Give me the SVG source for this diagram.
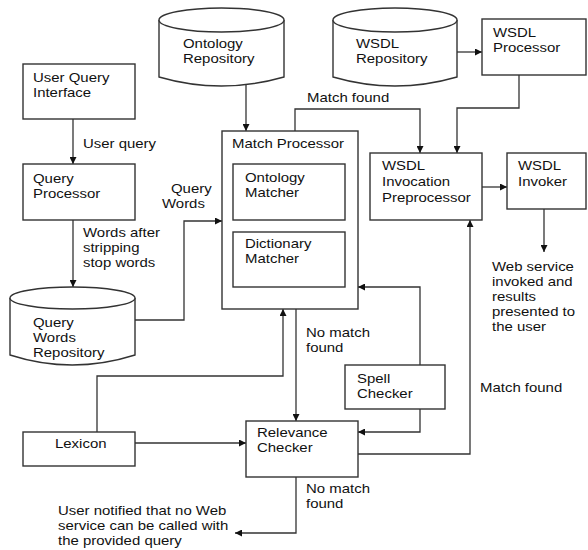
<svg xmlns="http://www.w3.org/2000/svg" width="588" height="550" viewBox="0 0 588 550">
<defs>
<style>
.box{fill:#fff;stroke:#333;stroke-width:1.4}
.ln{fill:none;stroke:#333;stroke-width:1.3}
text{font-family:"Liberation Sans",Arial,sans-serif;font-size:13px;fill:#111}
</style>
<marker id="ah" viewBox="0 0 10 10" refX="10" refY="5" markerWidth="7" markerHeight="7" markerUnits="userSpaceOnUse" orient="auto">
<path d="M0,0 L10,5 L0,10 z" fill="#111"/>
</marker>
</defs>
<rect width="588" height="550" fill="#fff"/>

<g id="connectors">
<path class="ln" d="M73,119 V164" marker-end="url(#ah)"/>
<path class="ln" d="M73,220 V287" marker-end="url(#ah)"/>
<path class="ln" d="M246,85 V131" marker-end="url(#ah)"/>
<path class="ln" d="M457,52 H482" marker-end="url(#ah)"/>
<path class="ln" d="M519,75 V108 H457 V153" marker-end="url(#ah)"/>
<path class="ln" d="M295,131 V109 H420 V153" marker-end="url(#ah)"/>
<path class="ln" d="M482,187 H507" marker-end="url(#ah)"/>
<path class="ln" d="M544,209 V252" marker-end="url(#ah)"/>
<path class="ln" d="M135,320 H184 V221 H222" marker-end="url(#ah)"/>
<path class="ln" d="M97,432 V376 H283 V309" marker-end="url(#ah)"/>
<path class="ln" d="M296,309 V421" marker-end="url(#ah)"/>
<path class="ln" d="M420,365 V287 H358" marker-end="url(#ah)"/>
<path class="ln" d="M420,409 V432 H358" marker-end="url(#ah)"/>
<path class="ln" d="M358,454 H470 V220" marker-end="url(#ah)"/>
<path class="ln" d="M296,477 V533 H235" marker-end="url(#ah)"/>
<path class="ln" d="M135,443 H246" marker-end="url(#ah)"/>
</g>

<g id="ontology-repository">
<path class="box" d="M159,20 V77 Q221,95 284,77 V20"/>
<ellipse class="box" cx="221.5" cy="20" rx="62.5" ry="12"/>
<text transform="translate(183,48) scale(1.15,1)">Ontology</text>
<text transform="translate(183,63) scale(1.15,1)">Repository</text>
</g>

<g id="wsdl-repository">
<path class="box" d="M333,20 V77 Q395,95 457,77 V20"/>
<ellipse class="box" cx="395" cy="20" rx="62" ry="12"/>
<text transform="translate(356,48) scale(1.15,1)">WSDL</text>
<text transform="translate(356,63) scale(1.15,1)">Repository</text>
</g>

<g id="wsdl-processor">
<rect class="box" x="482" y="19" width="104" height="56"/>
<text transform="translate(493,37) scale(1.15,1)">WSDL</text>
<text transform="translate(493,52) scale(1.15,1)">Processor</text>
</g>

<g id="user-query-interface">
<rect class="box" x="23" y="64" width="112" height="55"/>
<text transform="translate(33,82) scale(1.15,1)">User Query</text>
<text transform="translate(33,97) scale(1.15,1)">Interface</text>
</g>

<g id="label-user-query"><text transform="translate(83,148) scale(1.15,1)">User query</text></g>

<g id="query-processor">
<rect class="box" x="23" y="164" width="112" height="56"/>
<text transform="translate(33,183) scale(1.15,1)">Query</text>
<text transform="translate(33,198) scale(1.15,1)">Processor</text>
</g>

<g id="label-match-found-top"><text transform="translate(307,102) scale(1.15,1)">Match found</text></g>

<g id="match-processor">
<rect class="box" x="222" y="131" width="136" height="178"/>
<text transform="translate(232,148) scale(1.15,1)">Match Processor</text>
<g id="ontology-matcher">
<rect class="box" x="233" y="164" width="112" height="56"/>
<text transform="translate(245,182) scale(1.15,1)">Ontology</text>
<text transform="translate(245,197) scale(1.15,1)">Matcher</text>
</g>
<g id="dictionary-matcher">
<rect class="box" x="233" y="232" width="112" height="55"/>
<text transform="translate(245,248) scale(1.15,1)">Dictionary</text>
<text transform="translate(245,263) scale(1.15,1)">Matcher</text>
</g>
</g>

<g id="wsdl-invocation-preprocessor">
<rect class="box" x="370" y="153" width="112" height="67"/>
<text transform="translate(382,170) scale(1.15,1)">WSDL</text>
<text transform="translate(382,186) scale(1.15,1)">Invocation</text>
<text transform="translate(382,202) scale(1.15,1)">Preprocessor</text>
</g>

<g id="wsdl-invoker">
<rect class="box" x="507" y="153" width="79" height="56"/>
<text transform="translate(518,170) scale(1.15,1)">WSDL</text>
<text transform="translate(518,186) scale(1.15,1)">Invoker</text>
</g>

<g id="label-query-words">
<text transform="translate(171,193) scale(1.15,1)">Query</text>
<text transform="translate(162,208) scale(1.15,1)">Words</text>
</g>

<g id="label-words-after">
<text transform="translate(83,237) scale(1.15,1)">Words after</text>
<text transform="translate(83,252) scale(1.15,1)">stripping</text>
<text transform="translate(83,267) scale(1.15,1)">stop words</text>
</g>

<g id="query-words-repository">
<path class="box" d="M10,298 V355 Q72,375 135,355 V298"/>
<ellipse class="box" cx="72.5" cy="298" rx="62.5" ry="11"/>
<text transform="translate(33,327) scale(1.15,1)">Query</text>
<text transform="translate(33,342) scale(1.15,1)">Words</text>
<text transform="translate(33,357) scale(1.15,1)">Repository</text>
</g>

<g id="label-web-service">
<text transform="translate(492,271) scale(1.15,1)">Web service</text>
<text transform="translate(492,286) scale(1.15,1)">invoked and</text>
<text transform="translate(492,301) scale(1.15,1)">results</text>
<text transform="translate(492,316) scale(1.15,1)">presented to</text>
<text transform="translate(492,331) scale(1.15,1)">the user</text>
</g>

<g id="label-no-match-1">
<text transform="translate(306,337) scale(1.15,1)">No match</text>
<text transform="translate(306,352) scale(1.15,1)">found</text>
</g>

<g id="spell-checker">
<rect class="box" x="345" y="365" width="100" height="44"/>
<text transform="translate(357,383) scale(1.15,1)">Spell</text>
<text transform="translate(357,398) scale(1.15,1)">Checker</text>
</g>

<g id="label-match-found-bottom"><text transform="translate(480,392) scale(1.15,1)">Match found</text></g>

<g id="lexicon">
<rect class="box" x="23" y="432" width="112" height="34"/>
<text transform="translate(55,448) scale(1.15,1)">Lexicon</text>
</g>

<g id="relevance-checker">
<rect class="box" x="246" y="421" width="112" height="56"/>
<text transform="translate(257,437) scale(1.15,1)">Relevance</text>
<text transform="translate(257,452) scale(1.15,1)">Checker</text>
</g>

<g id="label-no-match-2">
<text transform="translate(306,493) scale(1.15,1)">No match</text>
<text transform="translate(306,508) scale(1.15,1)">found</text>
</g>

<g id="label-user-notified">
<text transform="translate(58,515) scale(1.15,1)">User notified that no Web</text>
<text transform="translate(58,530) scale(1.15,1)">service can be called with</text>
<text transform="translate(58,545) scale(1.15,1)">the provided query</text>
</g>
</svg>
